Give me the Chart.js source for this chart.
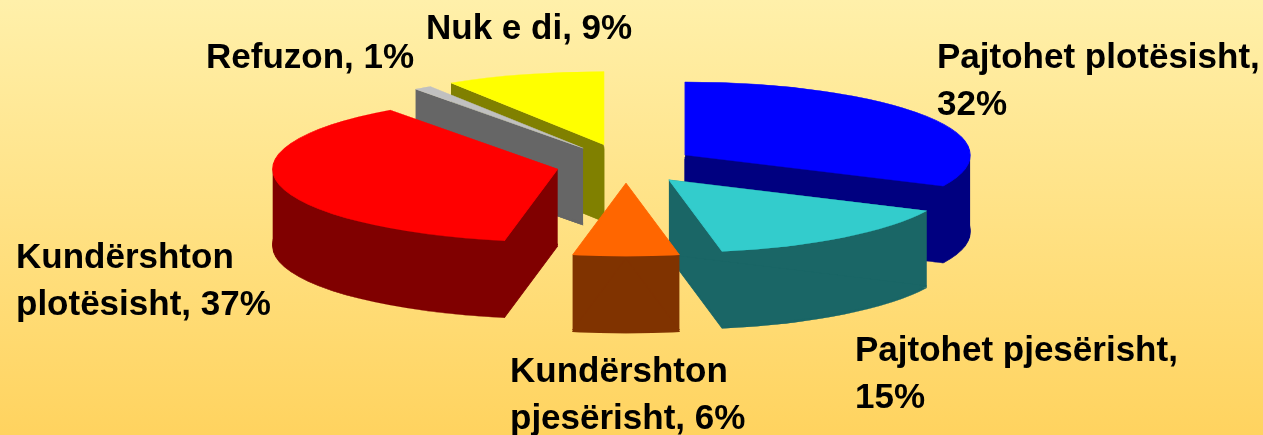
<!DOCTYPE html>
<html>
<head>
<meta charset="utf-8">
<style>html,body{margin:0;padding:0;background:#FFE48C}canvas{display:block}</style>
<script src="https://cdn.jsdelivr.net/npm/chart.js@4"></script>
</head>
<body>
<canvas id="c" width="1263" height="435"></canvas>
<script>
const categories = ["Pajtohet plotësisht", "Pajtohet pjesërisht", "Kundërshton pjesërisht", "Kundërshton plotësisht", "Refuzon", "Nuk e di"];
const values = [32, 15, 6, 37, 1, 9];
const topColors = ["#0000FF", "#33CCCC", "#FF6600", "#FF0000", "#C0C0C0", "#FFFF00"];
const sideColors = ["#000080", "#1A6666", "#803300", "#800000", "#666666", "#808000"];
const explode = [0.2456, 0.2456, 0.24, 0.2456, 0.268, 0.28];
const paintOrder = [5, 4, 0, 3, 1, 2];
const labelLines = [
  ["Pajtohet plotësisht,", "32%"],
  ["Pajtohet pjesërisht,", "15%"],
  ["Kundërshton", "pjesërisht, 6%"],
  ["Kundërshton", "plotësisht, 37%"],
  ["Refuzon, 1%"],
  ["Nuk e di, 9%"]
];
const labelAnchors = [[937, 68], [855, 361], [510, 382], [16, 268], [206, 68], [426, 39]];
const LINE_GAP = 47, RX = 285, RY = 73, CX = 626, CY = 165, DEPTH = 77, EXPLODE_SQUASH = 1.04;

const pie3d = {
  id: 'pie3d',
  beforeDraw(chart) {
    const { ctx, width, height } = chart;
    const g = ctx.createLinearGradient(0, 0, 0, height);
    g.addColorStop(0, '#FFF0AA');
    g.addColorStop(1, '#FFD35F');
    ctx.save();
    ctx.fillStyle = g;
    ctx.fillRect(0, 0, width, height);
    ctx.restore();
  },
  beforeDatasetDraw(chart) {
    const { ctx } = chart;
    const arcs = chart.getDatasetMeta(0).data;
    const R = arcs[0].outerRadius, ox = arcs[0].x, oy = arcs[0].y;
    const sx = RX / R, sy = RY / R;
    paintOrder.forEach(i => {
      const arc = arcs[i];
      const mid = (arc.startAngle + arc.endAngle) / 2;
      const ax = CX + Math.cos(mid) * explode[i] * RX;
      const ay = CY + Math.sin(mid) * explode[i] * RY * EXPLODE_SQUASH;
      const stamp = (color, drop) => {
        const proxy = Object.create(arc);
        proxy.options = Object.assign({}, arc.options, { backgroundColor: color, borderColor: color, borderWidth: 0.8, borderAlign: 'center', borderJoinStyle: 'round' });
        ctx.save();
        ctx.translate(ax, ay + drop);
        ctx.scale(sx, sy);
        ctx.translate(-ox, -oy);
        arc.draw.call(proxy, ctx);
        ctx.restore();
      };
      // Wall: the wedge swept straight down, between its two horizontal extremes.
      const at = a => [ax + RX * Math.cos(a), ay + RY * Math.sin(a)];
      const pts = [[ax, ay], at(arc.startAngle), at(arc.endAngle)];
      [0, Math.PI].forEach(a => { if (a > arc.startAngle && a < arc.endAngle) pts.push(at(a)); });
      const lo = pts.reduce((p, q) => (q[0] < p[0] ? q : p));
      const hi = pts.reduce((p, q) => (q[0] > p[0] ? q : p));
      ctx.save();
      ctx.fillStyle = sideColors[i];
      ctx.beginPath();
      ctx.moveTo(lo[0], lo[1]);
      ctx.lineTo(hi[0], hi[1]);
      ctx.lineTo(hi[0], hi[1] + DEPTH);
      ctx.lineTo(lo[0], lo[1] + DEPTH);
      ctx.closePath();
      ctx.fill();
      ctx.restore();
      stamp(sideColors[i], DEPTH);
      stamp(sideColors[i], DEPTH - 2);
      stamp(topColors[i], 0);
    });
    return false;
  },
  afterDraw(chart) {
    const { ctx } = chart;
    ctx.save();
    ctx.fillStyle = '#000';
    ctx.font = 'bold 35px "Liberation Sans", Arial, sans-serif';
    ctx.textBaseline = 'alphabetic';
    labelLines.forEach((lines, i) => {
      lines.forEach((t, j) => ctx.fillText(t, labelAnchors[i][0], labelAnchors[i][1] + j * LINE_GAP));
    });
    ctx.restore();
  }
};

new Chart(document.getElementById('c'), {
  type: 'pie',
  data: { labels: categories, datasets: [{ data: values, backgroundColor: topColors, borderWidth: 0 }] },
  options: {
    responsive: false,
    animation: false,
    layout: { padding: 0 },
    plugins: { legend: { display: false }, tooltip: { enabled: false } }
  },
  plugins: [pie3d]
});
</script>
</body>
</html>
